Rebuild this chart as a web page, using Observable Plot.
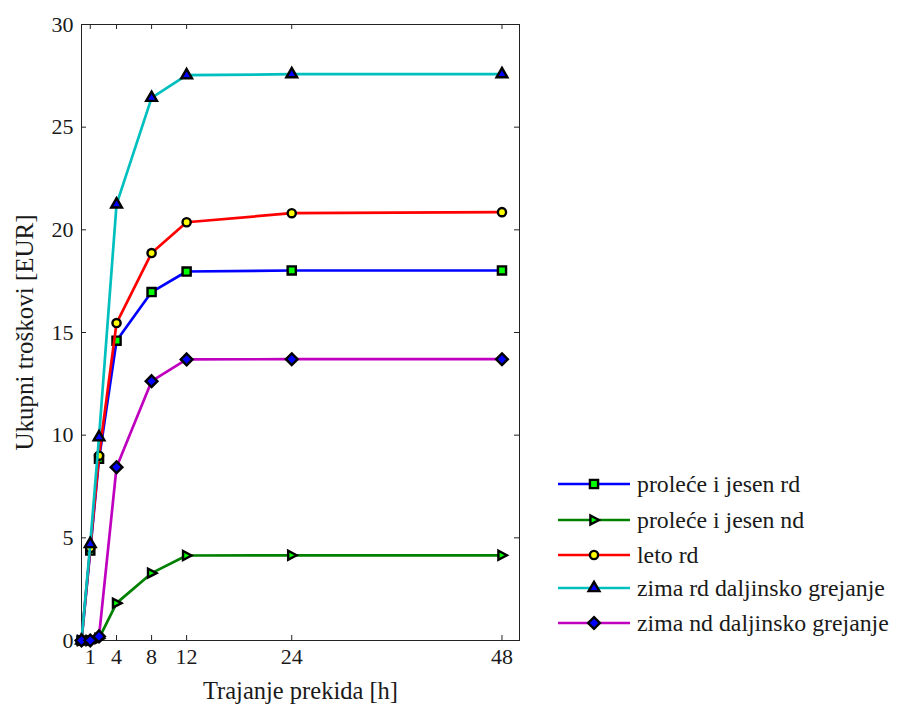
<!DOCTYPE html>
<html>
<head>
<meta charset="utf-8">
<script src="https://cdn.jsdelivr.net/npm/d3@7"></script>
<script src="https://cdn.jsdelivr.net/npm/@observablehq/plot@0.6"></script>
<style>
  html, body { margin: 0; padding: 0; background: #fff; }
  #wrap { position: relative; width: 899px; height: 704px; }
  #legend { position: absolute; left: 550px; top: 466px; }
  text { font-family: "Liberation Serif", "Times New Roman", serif; }
</style>
</head>
<body>
<div id="wrap"></div>
<script>
// ---- data ----
const hours = [0, 1, 2, 4, 8, 12, 24, 48];
const prolecejesenRd = [0, 4.38, 8.85, 14.6, 16.97, 17.97, 18.02, 18.02];
const prolecejesenNd = [0, 0, 0.1, 1.82, 3.28, 4.14, 4.15, 4.15];
const letoRd = [0, 4.5, 9.0, 15.46, 18.87, 20.37, 20.81, 20.86];
const zimaRd = [0, 4.7, 9.9, 21.24, 26.43, 27.53, 27.58, 27.58];
const zimaNd = [0, 0, 0.2, 8.44, 12.63, 13.69, 13.7, 13.7];
const seriesNames = ["proleće i jesen rd", "proleće i jesen nd", "leto rd", "zima rd daljinsko grejanje", "zima nd daljinsko grejanje"];
const seriesValues = [prolecejesenRd, prolecejesenNd, letoRd, zimaRd, zimaNd];
const xTicks = [1, 4, 8, 12, 24, 48];
const yTicks = [0, 5, 10, 15, 20, 25, 30];
const xLabel = "Trajanje prekida [h]";
const yLabel = "Ukupni troškovi [EUR]";

// ---- styles ----
const lineColors = ["#0000ff", "#008000", "#ff0000", "#00bfbf", "#bf00bf"];
const markerFills = ["#00ff00", "#00ff00", "#ffff00", "#0000ff", "#0000ff"];
const rightTriangle = {
  draw(context, size) {
    const h = Math.sqrt(size) * 0.55;
    context.moveTo(h * 1.1, 0);
    context.lineTo(-h * 0.8, -h);
    context.lineTo(-h * 0.8, h);
    context.closePath();
  }
};
const squareDiamond = {
  draw(context, size) {
    const h = Math.sqrt(size) * 0.72;
    context.moveTo(0, -h);
    context.lineTo(h, 0);
    context.lineTo(0, h);
    context.lineTo(-h, 0);
    context.closePath();
  }
};
const symbols = [d3.symbolSquare, rightTriangle, d3.symbolCircle, d3.symbolTriangle, squareDiamond];
const markerR = [4.6, 4.6, 4.1, 4.0, 4.6];

const rows = [];
seriesValues.forEach((vals, si) => {
  vals.forEach((v, i) => rows.push({s: si, x: hours[i], y: v}));
});

const W = 899, H = 704;
const mL = 81, mR = 380, mT = 24, mB = 64;
const plotH = H - mT - mB, plotW = W - mL - mR;
const tickLen = 5;
const font = "'Liberation Serif', 'Times New Roman', serif";

const marks = [];
// ticks inward on all four sides
marks.push(Plot.tickX(xTicks, {x: d => d, insetTop: plotH - tickLen, stroke: "#222"}));
marks.push(Plot.tickX(xTicks, {x: d => d, insetBottom: plotH - tickLen, stroke: "#222"}));
marks.push(Plot.tickY(yTicks, {y: d => d, insetRight: plotW - tickLen, stroke: "#222"}));
marks.push(Plot.tickY(yTicks, {y: d => d, insetLeft: plotW - tickLen, stroke: "#222"}));
marks.push(Plot.axisX(xTicks, {tickSize: 0, tickPadding: 8, label: null, fontSize: 22, color: "#1a1a1a"}));
marks.push(Plot.axisY(yTicks, {tickSize: 0, tickPadding: 8, label: null, fontSize: 22, color: "#1a1a1a"}));
marks.push(Plot.frame({stroke: "#222", strokeWidth: 1}));
seriesValues.forEach((vals, si) => {
  const d = rows.filter(r => r.s === si);
  marks.push(Plot.line(d, {x: "x", y: "y", stroke: lineColors[si], strokeWidth: 2.7}));
  marks.push(Plot.dot(d, {x: "x", y: "y", symbol: symbols[si], r: markerR[si], fill: markerFills[si], stroke: "#000", strokeWidth: 2.4}));
});
marks.push(Plot.text([xLabel], {text: d => d, frameAnchor: "bottom", textAnchor: "middle", dy: 58, lineAnchor: "bottom", fontSize: 24.5, fill: "#1a1a1a"}));
marks.push(Plot.text([yLabel], {text: d => d, frameAnchor: "left", textAnchor: "middle", dx: -57, rotate: -90, lineAnchor: "middle", fontSize: 25, fill: "#1a1a1a"}));

const chart = Plot.plot({
  width: W, height: H,
  marginLeft: mL, marginRight: mR, marginTop: mT, marginBottom: mB,
  style: {fontFamily: font, background: "#fff"},
  x: {domain: [0, 50]},
  y: {domain: [0, 30]},
  marks
});
const wrap = document.getElementById("wrap");
wrap.appendChild(chart);

// ---- legend ----
const lg = d3.select(wrap).append("svg").attr("id", "legend").attr("width", 349).attr("height", 180);
const rowY = [18, 54, 89, 122, 157];
seriesNames.forEach((name, i) => {
  const g = lg.append("g").attr("transform", `translate(0,${rowY[i]})`);
  g.append("line").attr("x1", 8).attr("x2", 80).attr("y1", 0).attr("y2", 0)
    .attr("stroke", lineColors[i]).attr("stroke-width", 2.7);
  g.append("path").attr("transform", "translate(44,0)")
    .attr("d", d3.symbol(symbols[i], Math.PI * markerR[i] * markerR[i])())
    .attr("fill", markerFills[i]).attr("stroke", "#000").attr("stroke-width", 2.4);
  g.append("text").attr("x", 87).attr("y", 0).attr("dy", "0.32em")
    .attr("font-size", 23.8).attr("fill", "#1a1a1a").attr("font-family", font).text(name);
});
</script>
</body>
</html>
